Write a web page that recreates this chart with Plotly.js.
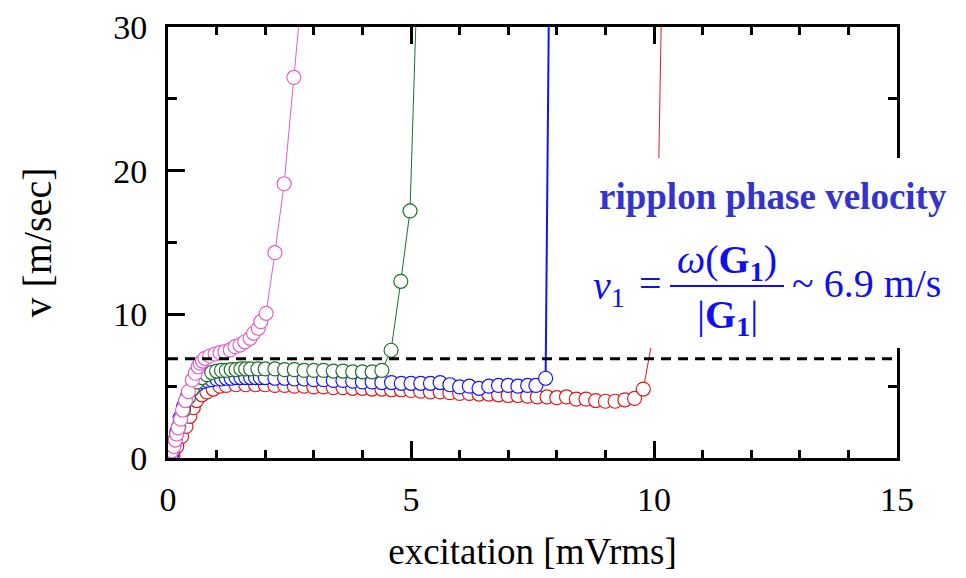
<!DOCTYPE html>
<html>
<head>
<meta charset="utf-8">
<script src="https://cdn.plot.ly/plotly-3.0.1.min.js"></script>
<style>html,body{margin:0;padding:0;background:#fff;}#chart{width:966px;height:578px;}</style>
</head>
<body>
<div id="chart"></div>
<script>
// ---- data ----
const pinkX = [0.08,0.12,0.15,0.18,0.21,0.26,0.3,0.36,0.42,0.5,0.56,0.62,0.66,0.71,0.76,0.86,0.97,1.07,1.17,1.28,1.38,1.48,1.58,1.69,1.76,1.86,1.91,2.02,2.2,2.39,2.59,2.96];
const pinkY = [0.5,0.8,1.25,1.67,2.09,2.7,3.34,4.0,4.62,5.43,5.9,6.35,6.6,6.75,6.94,7.1,7.24,7.33,7.4,7.52,7.75,7.86,8.09,8.33,8.68,9.03,9.49,10.07,14.29,19.09,26.49,40];

const greenX = [0.08,0.15,0.22,0.32,0.42,0.5,0.6,0.7,0.8,0.9,1.0,1.1,1.2,1.3,1.4,1.5,1.6,1.7,1.85,2.0,2.2,2.4,2.6,2.8,3.0,3.2,3.4,3.6,3.8,4.0,4.2,4.4,4.59,4.79,4.98,5.19];
const greenY = [0.5,1.3,2.2,3.3,4.2,4.8,5.3,5.6,5.8,5.95,6.05,6.1,6.1,6.15,6.15,6.2,6.2,6.2,6.2,6.2,6.2,6.15,6.15,6.1,6.1,6.1,6.05,6.05,6.0,6.0,6.0,6.1,7.5,12.3,17.2,40];

const blueX = [0.08,0.12,0.18,0.25,0.32,0.4,0.5,0.6,0.7,0.8,0.9,1.0,1.1,1.2,1.3,1.4,1.5,1.6,1.7,1.8,1.9,2.0,2.2,2.4,2.6,2.8,3.0,3.2,3.4,3.6,3.8,4.0,4.2,4.4,4.6,4.8,5.0,5.2,5.4,5.6,5.8,6.0,6.2,6.4,6.6,6.8,7.0,7.2,7.4,7.57,7.77,7.86];
const blueY = [0.3,0.9,1.8,2.8,3.6,4.3,4.8,5.1,5.3,5.4,5.45,5.5,5.5,5.55,5.55,5.6,5.6,5.6,5.6,5.6,5.6,5.6,5.55,5.55,5.5,5.5,5.45,5.45,5.4,5.4,5.35,5.3,5.3,5.25,5.25,5.2,5.2,5.2,5.2,5.25,5.1,4.95,5.0,4.85,5.0,5.05,5.05,5.0,5.05,5.05,5.55,40];

const redX = [0.1,0.18,0.28,0.37,0.45,0.52,0.59,0.7,0.8,0.93,1.07,1.2,1.4,1.6,1.8,2.0,2.2,2.4,2.6,2.8,3.0,3.2,3.4,3.6,3.8,4.0,4.2,4.4,4.6,4.8,5.0,5.2,5.4,5.6,5.8,6.0,6.2,6.4,6.6,6.8,7.0,7.2,7.4,7.6,7.8,8.0,8.2,8.4,8.6,8.8,9.0,9.2,9.4,9.6,9.78,10.04,10.2];
const redY = [0.2,0.8,1.5,2.2,2.9,3.5,4.0,4.4,4.6,4.8,5.0,5.05,5.1,5.1,5.1,5.1,5.05,5.05,5.0,5.0,4.95,4.95,4.9,4.9,4.85,4.85,4.8,4.8,4.75,4.75,4.7,4.65,4.6,4.6,4.55,4.5,4.5,4.45,4.45,4.4,4.35,4.35,4.3,4.25,4.25,4.2,4.25,4.1,4.1,4.0,3.95,3.95,4.05,4.15,4.8,9.6,40];

const refLineX = [0, 15];
const refLineY = [6.9, 6.9];

const xTickVals = [0, 5, 10, 15];
const yTickVals = [0, 10, 20, 30];

// ---- styling / layout ----
const FONT = "Liberation Serif, 'Times New Roman', Times, serif";
const L = 168, R = 897, T = 27, B = 458;
const W = 966, H = 578;
const px = v => (v - L) / (R - L);
const py = v => (B - v) / (B - T);

function series(x, y, color, lw) {
  return {
    x: x, y: y, type: 'scatter', mode: 'lines+markers',
    line: {color: color, width: lw},
    marker: {symbol: 'circle', size: 14, color: '#ffffff', line: {color: color, width: 1.2}},
    hoverinfo: 'skip', showlegend: false
  };
}

const traces = [
  series(redX, redY, '#dd1a1a', 1),
  series(blueX, blueY, '#1414ee', 2),
  series(greenX, greenY, '#1f6e2a', 1),
  series(pinkX, pinkY, '#e060c8', 1),
  {x: refLineX, y: refLineY, type: 'scatter', mode: 'lines',
   line: {color: '#000', width: 3, dash: '10px,7px'}, hoverinfo: 'skip', showlegend: false}
];

const axisCommon = {
  showgrid: false, zeroline: false, showline: true, linecolor: '#000', linewidth: 3,
  mirror: 'ticks', ticks: 'inside', ticklen: 17, tickwidth: 3, tickcolor: '#000',
  tickfont: {family: FONT, size: 34, color: '#000'},
  tickmode: 'array'
};

const blue = '#1010ee';
const fs = 40;
const layout = {
  width: W, height: H,
  margin: {l: L, r: W - R, t: T, b: H - B},
  paper_bgcolor: '#fff', plot_bgcolor: '#fff',
  font: {family: FONT, color: '#000'},
  xaxis: Object.assign({}, axisCommon, {
    range: [0, 15], tickvals: xTickVals, ticktext: xTickVals.map(String),
    minor: {dtick: 1, ticks: 'inside', ticklen: 8, tickwidth: 3, tickcolor: '#000'},
    ticklabelstandoff: 9,
    title: {text: 'excitation [mVrms]', font: {family: FONT, size: 37, color: '#000'}, standoff: 22}
  }),
  yaxis: Object.assign({}, axisCommon, {
    range: [0, 30], tickvals: yTickVals, ticktext: yTickVals.map(String),
    minor: {dtick: 5, ticks: 'inside', ticklen: 9, tickwidth: 3, tickcolor: '#000'},
    ticklabelstandoff: 11,
    title: {text: 'v [m/sec]', font: {family: FONT, size: 40, color: '#000'}, standoff: 50}
  }),
  shapes: [
    {type: 'rect', xref: 'paper', yref: 'paper', layer: 'above',
     x0: px(584), x1: px(955), y0: py(348), y1: py(158),
     fillcolor: '#fff', line: {width: 0}},
    {type: 'line', xref: 'paper', yref: 'paper', layer: 'above',
     x0: px(670), x1: px(784), y0: py(286), y1: py(286),
     line: {color: blue, width: 2}}
  ],
  annotations: [
    {xref: 'paper', yref: 'paper', x: px(773), y: py(196), xanchor: 'center', yanchor: 'middle',
     showarrow: false, text: '<b>ripplon phase velocity</b>',
     font: {family: FONT, size: 37, color: '#3434cc'}},
    {xref: 'paper', yref: 'paper', x: px(609), y: py(288), xanchor: 'center', yanchor: 'middle',
     showarrow: false, text: '<i>v</i><sub>1</sub>', font: {family: FONT, size: fs, color: blue}},
    {xref: 'paper', yref: 'paper', x: px(650), y: py(283), xanchor: 'center', yanchor: 'middle',
     showarrow: false, text: '=', font: {family: FONT, size: fs, color: blue}},
    {xref: 'paper', yref: 'paper', x: px(727), y: py(262), xanchor: 'center', yanchor: 'middle',
     showarrow: false, text: '<i>ω</i>(<b>G</b><sub><b>1</b></sub>)', font: {family: FONT, size: fs, color: blue}},
    {xref: 'paper', yref: 'paper', x: px(727), y: py(317), xanchor: 'center', yanchor: 'middle',
     showarrow: false, text: '|<b>G</b><sub><b>1</b></sub>|', font: {family: FONT, size: fs, color: blue}},
    {xref: 'paper', yref: 'paper', x: px(866), y: py(284), xanchor: 'center', yanchor: 'middle',
     showarrow: false, text: '~ 6.9 m/s', font: {family: FONT, size: fs, color: blue}}
  ]
};

Plotly.newPlot('chart', traces, layout, {displayModeBar: false, staticPlot: true});
</script>
</body>
</html>
